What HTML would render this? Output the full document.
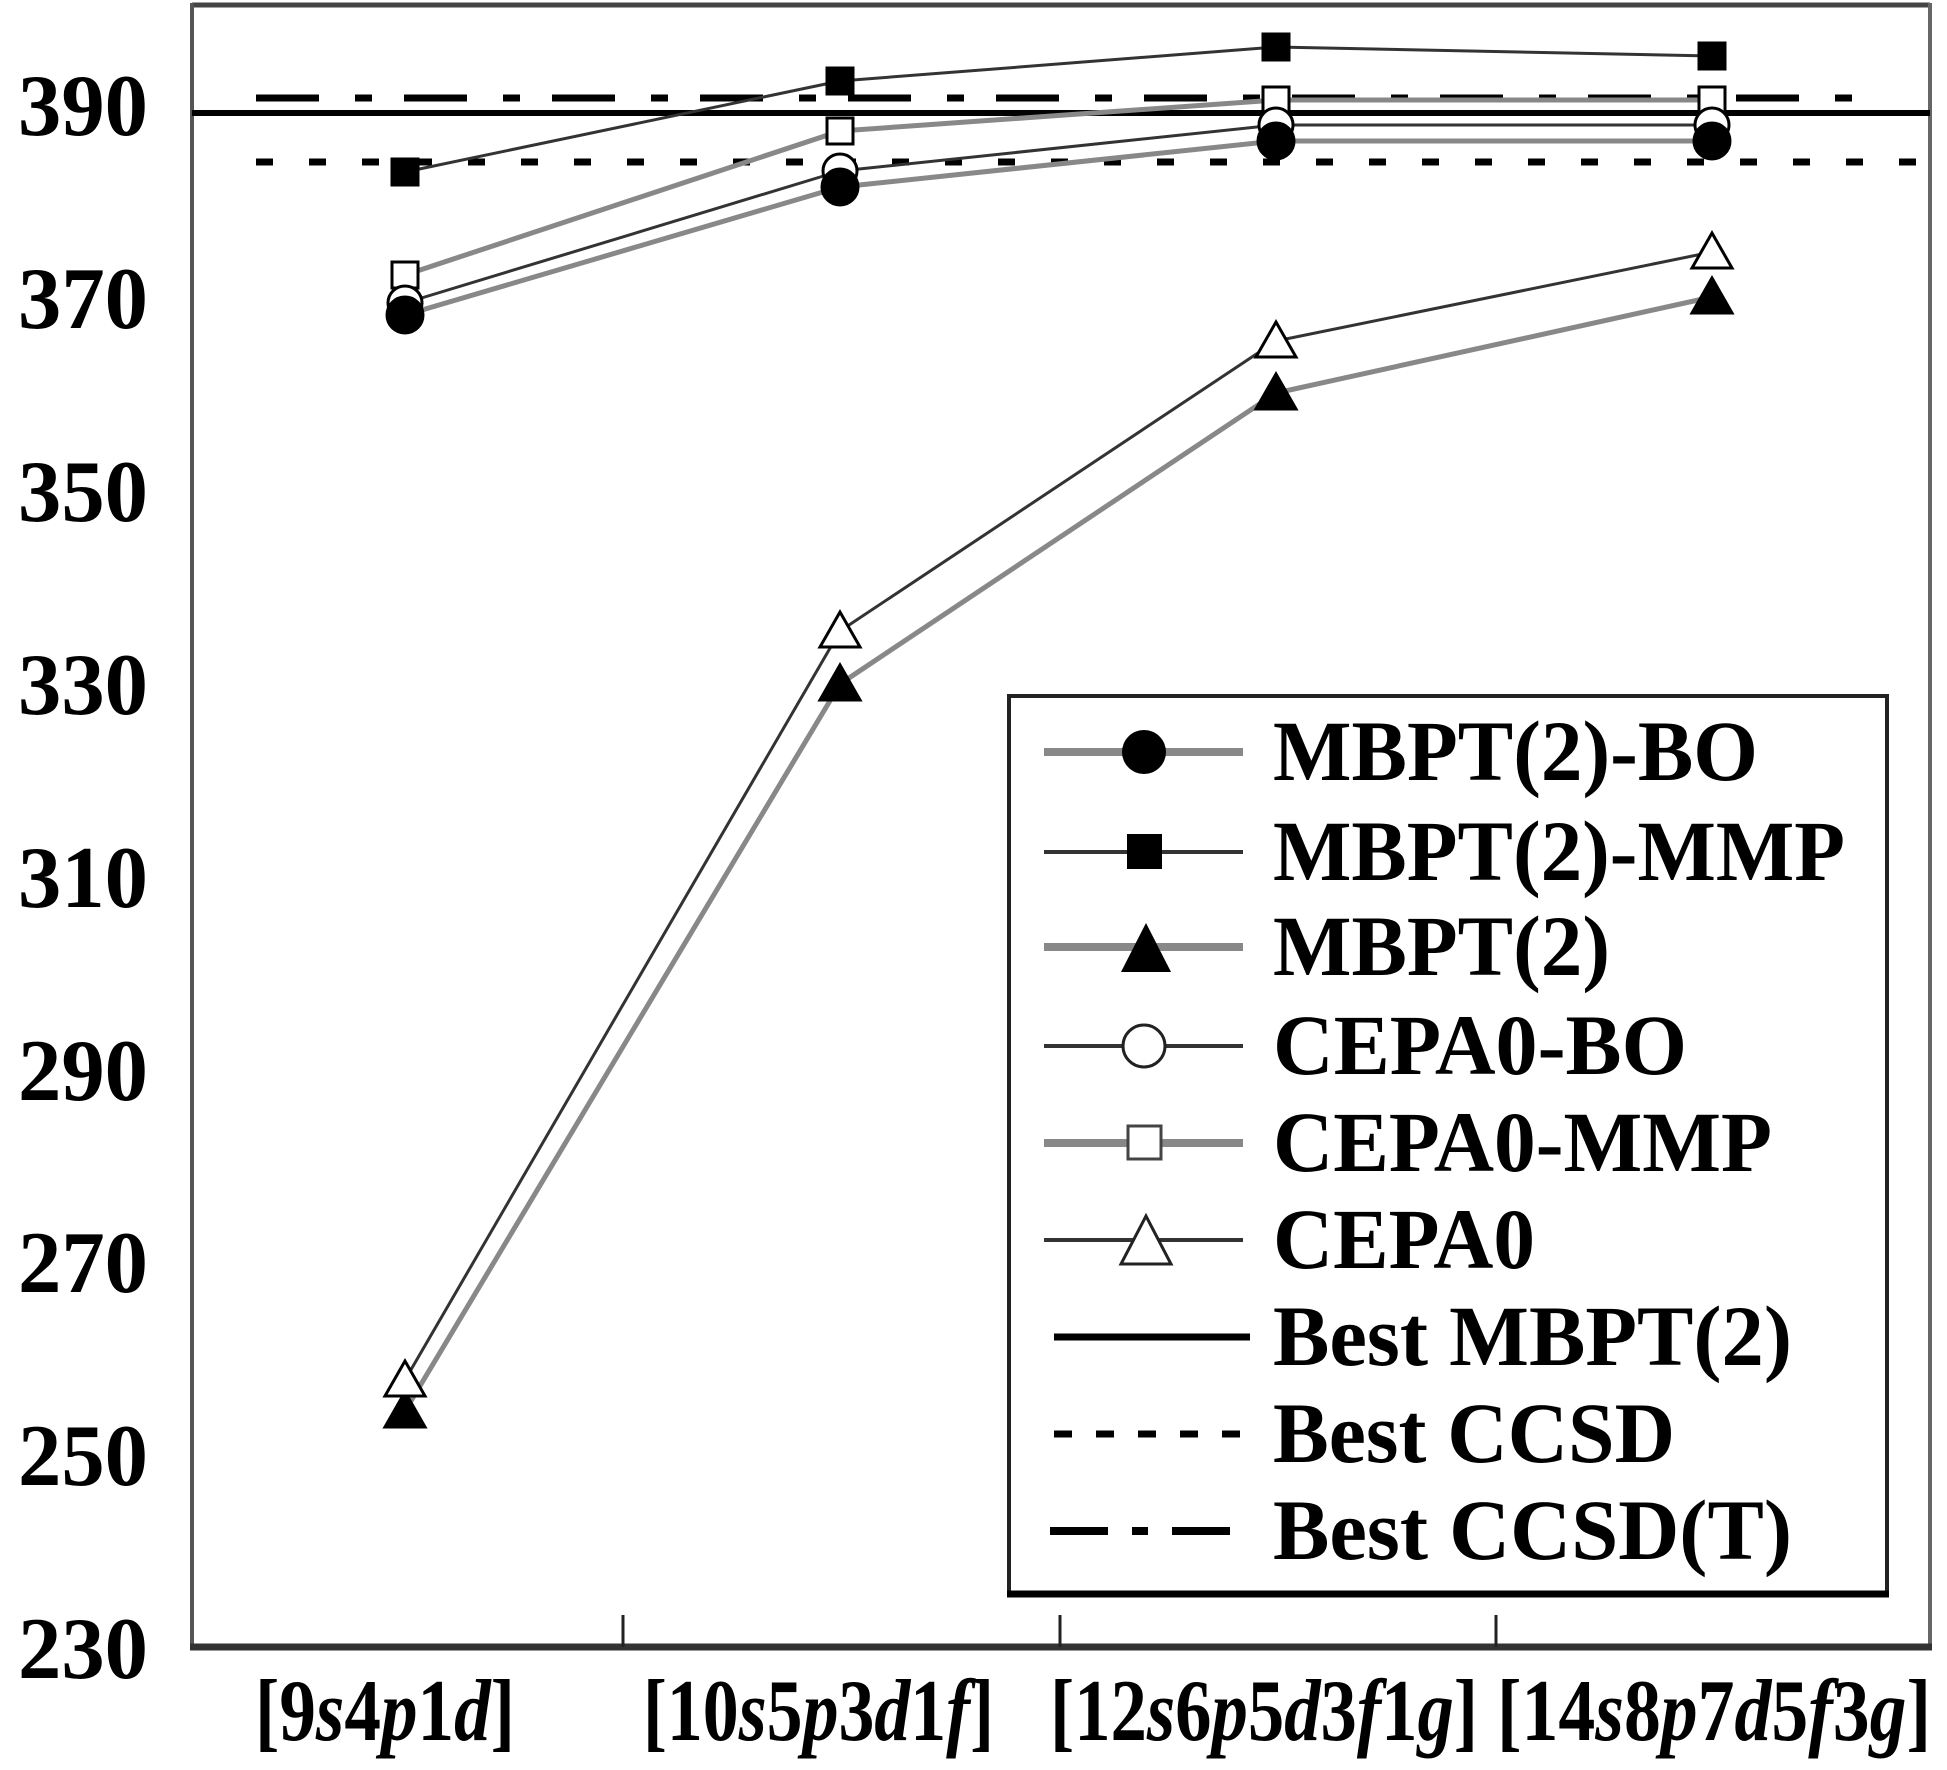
<!DOCTYPE html>
<html><head><meta charset="utf-8"><style>html,body{margin:0;padding:0;background:#fff}svg{display:block}</style></head><body>
<svg width="1947" height="1770" viewBox="0 0 1947 1770" xmlns="http://www.w3.org/2000/svg" font-family="'Liberation Serif', serif" font-weight="bold">
<rect width="1947" height="1770" fill="#fff"/>
<line x1="192" y1="5" x2="1930" y2="5" stroke="#444" stroke-width="5"/>
<line x1="192" y1="3" x2="192" y2="1650" stroke="#555" stroke-width="4"/>
<line x1="1930" y1="3" x2="1930" y2="1650" stroke="#666" stroke-width="4"/>
<line x1="190" y1="1647" x2="1932" y2="1647" stroke="#333" stroke-width="7"/>
<g stroke="#222" stroke-width="3"><line x1="623" y1="1615" x2="623" y2="1647"/><line x1="1060" y1="1615" x2="1060" y2="1647"/><line x1="1496" y1="1615" x2="1496" y2="1647"/></g>
<g font-size="88" fill="#000">
<text x="18" y="135" textLength="130" lengthAdjust="spacingAndGlyphs">390</text>
<text x="18" y="328" textLength="130" lengthAdjust="spacingAndGlyphs">370</text>
<text x="18" y="521" textLength="130" lengthAdjust="spacingAndGlyphs">350</text>
<text x="18" y="714" textLength="130" lengthAdjust="spacingAndGlyphs">330</text>
<text x="18" y="907" textLength="130" lengthAdjust="spacingAndGlyphs">310</text>
<text x="18" y="1100" textLength="130" lengthAdjust="spacingAndGlyphs">290</text>
<text x="18" y="1292" textLength="130" lengthAdjust="spacingAndGlyphs">270</text>
<text x="18" y="1485" textLength="130" lengthAdjust="spacingAndGlyphs">250</text>
<text x="18" y="1678" textLength="130" lengthAdjust="spacingAndGlyphs">230</text>
</g>
<g font-size="88" fill="#000">
<text x="255" y="1740" textLength="260" lengthAdjust="spacingAndGlyphs">[9<tspan font-style="italic">s</tspan>4<tspan font-style="italic">p</tspan>1<tspan font-style="italic">d</tspan>]</text>
<text x="643" y="1740" textLength="351" lengthAdjust="spacingAndGlyphs">[10<tspan font-style="italic">s</tspan>5<tspan font-style="italic">p</tspan>3<tspan font-style="italic">d</tspan>1<tspan font-style="italic">f</tspan>]</text>
<text x="1050" y="1740" textLength="428" lengthAdjust="spacingAndGlyphs">[12<tspan font-style="italic">s</tspan>6<tspan font-style="italic">p</tspan>5<tspan font-style="italic">d</tspan>3<tspan font-style="italic">f</tspan>1<tspan font-style="italic">g</tspan>]</text>
<text x="1497" y="1740" textLength="434" lengthAdjust="spacingAndGlyphs">[14<tspan font-style="italic">s</tspan>8<tspan font-style="italic">p</tspan>7<tspan font-style="italic">d</tspan>5<tspan font-style="italic">f</tspan>3<tspan font-style="italic">g</tspan>]</text>
</g>
<line x1="192" y1="113" x2="1930" y2="113" stroke="#000" stroke-width="6"/>
<line x1="256" y1="162" x2="1930" y2="162" stroke="#000" stroke-width="7" stroke-dasharray="17 36"/>
<line x1="256" y1="98" x2="1853" y2="98" stroke="#000" stroke-width="7" stroke-dasharray="63 36 17 32"/>
<g fill="none" stroke-linejoin="round">
<polyline points="405,1380 840,631 1276,341 1712,252" stroke="#333" stroke-width="3"/>
<polyline points="405,1411 840,684 1276,393 1712,297" stroke="#888" stroke-width="5"/>
<polyline points="405,172 840,81 1276,47 1712,56" stroke="#333" stroke-width="3"/>
<polyline points="405,315 840,187 1276,141 1712,141" stroke="#888" stroke-width="5"/>
<polyline points="405,303 840,171 1276,125 1712,125" stroke="#333" stroke-width="3"/>
<polyline points="405,275 840,131 1276,100 1712,100" stroke="#888" stroke-width="5"/>
</g>
<g stroke="#000" stroke-width="3">
<g fill="#fff">
<rect x="392" y="262" width="26" height="26"/><rect x="827" y="118" width="26" height="26"/><rect x="1263" y="87" width="26" height="26"/><rect x="1699" y="87" width="26" height="26"/>
<circle cx="405" cy="303" r="17"/><circle cx="840" cy="171" r="17"/><circle cx="1276" cy="125" r="17"/><circle cx="1712" cy="125" r="17"/>
</g>
<g fill="#000">
<circle cx="405" cy="315" r="18"/><circle cx="840" cy="187" r="18"/><circle cx="1276" cy="141" r="18"/><circle cx="1712" cy="141" r="18"/>
<rect x="392" y="159" width="26" height="26"/><rect x="827" y="68" width="26" height="26"/><rect x="1263" y="34" width="26" height="26"/><rect x="1699" y="43" width="26" height="26"/>
<polygon points="405,1392 385,1427 425,1427"/><polygon points="840,665 820,700 860,700"/><polygon points="1276,374 1256,409 1296,409"/><polygon points="1712,278 1692,313 1732,313"/>
</g>
<g fill="#fff">
<polygon points="405,1361 385,1396 425,1396"/><polygon points="840,612 820,647 860,647"/><polygon points="1276,322 1256,357 1296,357"/><polygon points="1712,233 1692,268 1732,268"/>
</g>
</g>
<rect x="1009" y="696" width="878" height="898" fill="#fff" stroke="#222" stroke-width="4"/>
<line x1="1007" y1="1594" x2="1889" y2="1594" stroke="#000" stroke-width="7"/>
<g>
<line x1="1044" y1="752" x2="1243" y2="752" stroke="#888" stroke-width="8"/><circle cx="1144" cy="752" r="22" fill="#000"/>
<line x1="1044" y1="852" x2="1243" y2="852" stroke="#333" stroke-width="4"/><rect x="1127" y="834" width="35" height="35" fill="#000"/>
<line x1="1044" y1="947" x2="1243" y2="947" stroke="#888" stroke-width="8"/><polygon points="1146,923 1121,972 1171,972" fill="#000"/>
<line x1="1044" y1="1046" x2="1243" y2="1046" stroke="#333" stroke-width="4"/><circle cx="1144" cy="1046" r="21" fill="#fff" stroke="#222" stroke-width="3"/>
<line x1="1044" y1="1143" x2="1243" y2="1143" stroke="#888" stroke-width="8"/><rect x="1128" y="1126" width="33" height="33" fill="#fff" stroke="#444" stroke-width="3"/>
<line x1="1044" y1="1240" x2="1243" y2="1240" stroke="#333" stroke-width="4"/><polygon points="1146,1216 1121,1264 1171,1264" fill="#fff" stroke="#222" stroke-width="3"/>
<line x1="1054" y1="1337" x2="1250" y2="1337" stroke="#000" stroke-width="7"/>
<line x1="1054" y1="1434" x2="1250" y2="1434" stroke="#000" stroke-width="7" stroke-dasharray="18 24"/>
<line x1="1050" y1="1531" x2="1250" y2="1531" stroke="#000" stroke-width="8" stroke-dasharray="58 24 16 24"/>
</g>
<g font-size="86" fill="#000">
<text x="1273" y="780" textLength="485" lengthAdjust="spacingAndGlyphs">MBPT(2)-BO</text>
<text x="1273" y="880" textLength="572" lengthAdjust="spacingAndGlyphs">MBPT(2)-MMP</text>
<text x="1273" y="975" textLength="337" lengthAdjust="spacingAndGlyphs">MBPT(2)</text>
<text x="1273" y="1074" textLength="414" lengthAdjust="spacingAndGlyphs">CEPA0-BO</text>
<text x="1273" y="1171" textLength="499" lengthAdjust="spacingAndGlyphs">CEPA0-MMP</text>
<text x="1273" y="1268" textLength="262" lengthAdjust="spacingAndGlyphs">CEPA0</text>
<text x="1273" y="1365" textLength="519" lengthAdjust="spacingAndGlyphs">Best MBPT(2)</text>
<text x="1273" y="1462" textLength="402" lengthAdjust="spacingAndGlyphs">Best CCSD</text>
<text x="1273" y="1559" textLength="519" lengthAdjust="spacingAndGlyphs">Best CCSD(T)</text>
</g>
</svg>
</body></html>
